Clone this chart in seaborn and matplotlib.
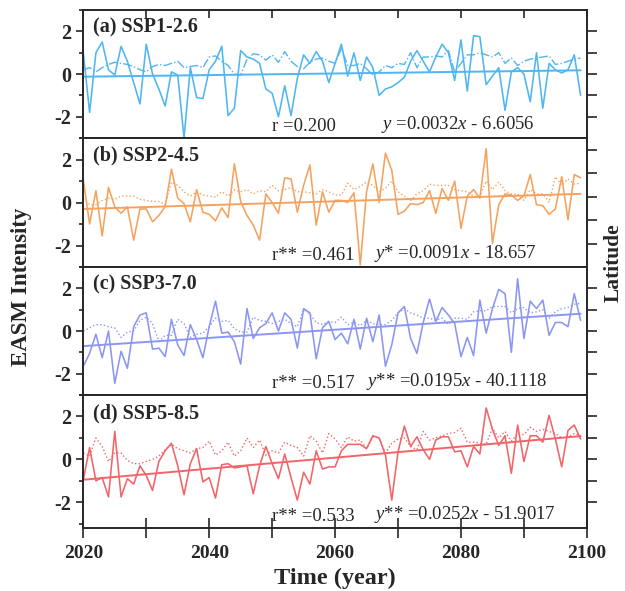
import numpy as np
import matplotlib.pyplot as plt
import seaborn as sns

years = np.arange(2020, 2100)

ssp126_annual = [1.0, -1.8, 1.0, 1.5, 0.2, -0.05, 1.3, 0.6, -0.4, -1.4,
                 1.4, 0.0, -0.7, -1.5, 0.1, -0.05, -3.0, 0.3, -1.1, -1.15,
                 0.2, 0.6, 1.3, -1.95, -1.6, 1.1, 0.8, 0.7, 0.5, -0.7,
                 -0.9, -2.0, -0.55, -1.95, -0.2, 0.9, 0.5, 1.05, 0.6, -0.4,
                 0.5, 1.4, -0.1, 1.0, -0.3, 0.8, 0.3, -1.0, -0.7, -0.6,
                 -0.4, -0.15, 0.6, 1.1, 0.6, 0.1, 0.8, 1.4, 1.0, -0.3,
                 1.6, -0.8, 1.8, 1.75, -0.5, -0.1, 0.3, -1.7, 0.1, 0.3,
                 0.0, -1.3, 1.0, -1.6, 0.5, 0.2, 0.05, 0.2, 0.9, -1.0]
ssp126_other = [0.2, 0.3, 0.1, 0.3, 0.45, 0.55, 0.5, 0.45, 0.35, 0.2,
                0.1, 0.35, 0.45, 0.4, 0.5, 0.6, 0.3, 0.35, 0.4, 0.3,
                0.8, 0.85, 0.6, 0.4, 0.0, -0.05, 0.7, 0.95, 0.9, 0.65,
                0.9, 0.55, 1.05, 0.6, 0.35, 0.25, 0.55, 0.7, 0.75, 0.6,
                0.5, 1.2, 0.4, 0.4, 0.5, 0.25, -0.05, 0.1, 0.4, 0.3,
                0.5, 0.45, 1.0, 0.3, 0.8, 0.8, 0.85, 0.8, 1.1, 0.1,
                0.5, 0.9, 0.9, 1.0, 0.9, 0.8, 1.0, 0.5, 0.75, 0.4,
                0.6, 0.7, 0.75, 0.8, 0.85, 0.45, 0.5, 0.6, 0.7, 0.75]

ssp245_annual = [1.05, -1.0, 0.55, -1.55, 0.7, -0.2, -0.5, -0.2, -1.75, -0.3,
                 -0.3, -0.9, -0.6, -0.2, 1.55, 0.2, -0.05, -0.9, 0.6, -0.45,
                 -0.55, -0.85, -0.25, -0.7, 1.8, 0.05, -0.6, -1.05, -1.75, 0.4,
                 0.0, -0.5, 1.15, 1.1, -0.45, 0.8, 1.75, -1.05, 0.5, -0.45,
                 0.1, 0.1, 0.0, 0.45, -2.9, 0.5, 1.8, 0.0, 2.3, 1.5,
                 -0.55, -0.4, -0.05, -0.1, 0.0, 0.55, -0.5, 0.65, 0.1, 1.0,
                 -1.2, 0.3, 0.6, 0.2, 2.5, -1.9, -0.1, 0.4, 0.35, 0.1,
                 0.3, 1.3, -0.1, -0.15, -0.55, -0.3, 1.2, -0.8, 1.3, 1.15]
ssp245_other = [0.2, -0.1, -0.1, 0.1, 0.2, 0.15, 0.3, 0.3, 0.3, 0.15,
                0.1, 0.05, 0.05, -0.1, 0.95, 0.8, 0.5, 0.3, 0.5, 0.35,
                0.3, 0.25, 0.5, 0.3, 0.6, 0.5, 0.6, 0.4, 0.55, 0.5,
                0.8, 0.55, 0.6, 0.7, 0.5, 0.5, 0.45, 0.4, 0.6, 0.5,
                0.35, 0.35, 0.9, 0.6, 0.75, 0.95, 0.8, 0.5, 0.65, 1.0,
                0.5, 0.3, 0.1, 0.4, 0.55, 0.85, 0.8, 0.8, 0.8, 0.6,
                0.55, 0.5, 0.3, 0.3, 1.0, 0.6, 0.95, 0.55, 0.4, 0.4,
                0.1, 0.6, 0.4, 0.4, 0.0, 1.2, 0.8, 1.1, 0.85, 0.9]

ssp370_annual = [-1.65, -1.05, -0.15, -1.25, 0.0, -2.45, -0.95, -1.75, 0.2, 0.75,
                 0.85, -0.85, -0.8, -1.2, 0.55, -0.65, -1.15, 0.3, -0.4, -1.25,
                 0.2, 1.4, -0.1, -0.05, -0.5, -1.55, 1.05, -0.35, 0.15, 0.35,
                 0.85, 0.0, 0.85, 0.55, -0.8, 1.05, 0.85, -1.3, 0.15, 0.45,
                 -0.4, -0.1, -0.6, 0.55, -0.85, 0.6, -0.5, 0.75, -1.65, -0.65,
                 0.85, 1.15, -0.35, -1.05, 0.4, 1.5, 0.45, 1.1, 0.75, 0.35,
                 -1.2, -0.3, -1.15, 1.45, -0.1, 1.05, 1.95, 1.75, -1.0, 2.45,
                 -0.35, 1.4, 1.05, 1.45, -0.2, 0.4, 0.4, 0.2, 1.75, 0.5]
ssp370_other = [0.0, 0.15, 0.3, 0.3, 0.2, 0.15, -0.3, -0.05, 0.0, 0.5,
                0.65, 0.35, -0.5, -0.2, -0.2, 0.55, 0.35, -0.3, -0.15, -0.1,
                0.2, 0.6, 0.45, 0.5, 0.1, -0.05, -0.05, 0.65, 0.5, 0.45,
                0.35, 0.45, 0.55, 0.35, 0.2, 1.0, 0.8, 0.4, 0.3, 0.45,
                0.4, 0.65, 0.3, 0.4, 0.25, 0.5, 0.35, 0.3, 0.3, 0.5,
                0.85, 1.05, 0.85, 0.75, 0.6, 0.6, 0.5, 0.6, 0.3, 0.6,
                0.6, 0.55, 0.9, 0.95, 0.95, 1.15, 1.15, 1.15, 0.85, 1.05,
                1.1, 0.85, 0.9, 1.0, 0.6, 0.9, 1.05, 1.1, 1.25, 1.3]

ssp585_annual = [-0.95, 0.55, -1.0, -0.85, -1.75, 1.3, -1.75, -0.9, -1.15, -0.3,
                 -0.75, -1.45, -0.1, 0.4, 0.75, -0.3, -1.65, -0.2, 0.5, -1.05,
                 -0.85, -1.8, -0.25, -0.2, -0.4, -0.35, -0.3, -1.6, -0.3, 0.6,
                 -0.2, -0.9, 0.25, -0.85, -1.9, -0.6, -1.15, 0.4, -0.45, -0.35,
                 -0.35, 0.4, 0.7, 0.7, 0.7, 0.5, 1.1, 1.0, 0.2, -1.9,
                 0.35, 1.55, 0.6, 1.05, 0.45, 0.0, 0.9, 1.05, 1.05, 0.35,
                 0.4, -0.35, 0.6, 0.25, 2.4, 1.4, 0.65, 1.1, -0.65, 1.6,
                 -0.1, 1.1, 1.1, 0.8, 2.05, 0.95, -0.35, 1.35, 1.6, 0.95]
ssp585_other = [0.3, 0.15, 1.0, 0.6, -0.1, 0.3, 0.3, -0.05, -0.2, -0.2,
                -0.1, 0.0, 0.15, 0.45, 0.7, 0.5, 0.4, 0.3, 0.5, 0.55,
                0.85, 0.2, 0.4, 0.8, 0.15, 0.4, 1.0, 0.55, 0.9, 0.2,
                0.4, 0.3, 0.8, 0.65, 0.55, 0.15, 1.1, 0.85, 0.3, 1.2,
                0.95, 0.55, 1.05, 0.85, 0.9, 0.5, 1.05, 1.0, 0.3, 0.75,
                0.95, 1.0, 0.6, 0.45, 1.3, 0.9, 1.0, 1.1, 1.2, 1.25,
                1.45, 0.8, 0.8, 0.75, 0.7, 1.45, 1.0, 1.3, 0.85, 1.2,
                1.15, 1.5, 1.3, 1.4, 1.3, 1.2, 1.0, 1.05, 1.2, 1.1]

panel_titles = ['(a) SSP1-2.6', '(b) SSP2-4.5', '(c) SSP3-7.0', '(d) SSP5-8.5']
r_labels = ['r =0.200', 'r** =0.461', 'r** =0.517', 'r** =0.533']
fit_labels = [r'$y$ =0.0032$x$ - 6.6056', r'$y$* =0.0091$x$ - 18.657',
              r'$y$** =0.0195$x$ - 40.1118', r'$y$** =0.0252$x$ - 51.9017']

annual = [ssp126_annual, ssp245_annual, ssp370_annual, ssp585_annual]
other = [ssp126_other, ssp245_other, ssp370_other, ssp585_other]
colors = ['#4fb6f2', '#f5a25e', '#8b96f2', '#f36468']
other_styles = ['-.', ':', ':', ':']
ylims = [(-3, 3), (-3, 2.5), (-3, 3), (-3.2, 3)]
fit_x = [0.592, 0.578, 0.562, 0.578]

sns.set_style('ticks')
plt.rcParams['font.family'] = ['Liberation Serif', 'DejaVu Serif']
plt.rcParams['mathtext.fontset'] = 'custom'
plt.rcParams['mathtext.rm'] = 'Liberation Serif'
plt.rcParams['mathtext.it'] = 'Liberation Serif:italic'
plt.rcParams['axes.linewidth'] = 1.2
plt.rcParams['axes.unicode_minus'] = False

fig = plt.figure(figsize=(6.25, 5.91), dpi=100)
gs = fig.add_gridspec(4, 1, height_ratios=[128, 129, 128, 133], hspace=0,
                      left=0.1333, right=0.939, top=0.983, bottom=0.1066)

for i in range(4):
    ax = fig.add_subplot(gs[i])
    sns.lineplot(x=years, y=other[i], ax=ax, color=colors[i], lw=1.0,
                 linestyle=other_styles[i])
    sns.lineplot(x=years, y=annual[i], ax=ax, color=colors[i], lw=1.15)
    sns.regplot(x=years, y=np.array(annual[i]), ax=ax, scatter=False, ci=None,
                color=colors[i], line_kws={'lw': 1.4})

    ax.set_xlim(2020, 2100)
    ax.set_ylim(*ylims[i])
    ax.set_yticks([-2, 0, 2])
    ax.set_yticks([-3, -1, 1, 3], minor=True)
    ax.set_xticks(range(2020, 2101, 20))
    ax.set_xticks(range(2030, 2100, 20), minor=True)
    ax.set_ylabel('')
    ax.set_xlabel('')
    ax.tick_params(axis='y', which='major', direction='out', length=5, width=1.2,
                   labelsize=14.5)
    ax.tick_params(axis='y', which='minor', direction='out', length=3, width=1.2)
    for lab in ax.get_yticklabels():
        lab.set_fontweight('bold')

    if i == 0:
        ax.tick_params(axis='x', which='both', top=True, bottom=False, direction='in',
                       length=6, width=1.2, labelbottom=False)
    elif i == 3:
        ax.tick_params(axis='x', which='both', direction='inout', length=14, width=1.2,
                       labelsize=14, pad=5)
        for lab in ax.get_xticklabels():
            lab.set_fontweight('bold')
    else:
        ax.tick_params(axis='x', which='both', bottom=False, labelbottom=False)

    ax2 = ax.twinx()
    ax2.set_ylim(*ylims[i])
    ax2.set_yticks([-2, -1, 0, 1, 2])
    ax2.tick_params(axis='y', direction='out', length=7, width=1.2, labelright=False)

    ax.text(0.0185, 0.94, panel_titles[i], transform=ax.transAxes, ha='left', va='top',
            fontsize=14.5, fontweight='bold')
    ax.text(0.374, 0.025, r_labels[i], transform=ax.transAxes, ha='left', va='bottom',
            fontsize=13.5)
    ax.text(fit_x[i], 0.025, fit_labels[i], transform=ax.transAxes, ha='left',
            va='bottom', fontsize=13.5)

fig.text(0.535, 0.021, 'Time (year)', ha='center', va='center', fontsize=17.5,
         fontweight='bold')
fig.text(0.035, 0.515, 'EASM Intensity', ha='center', va='center', rotation=90,
         fontsize=16.5, fontweight='bold')
fig.text(0.982, 0.555, 'Latitude', ha='center', va='center', rotation=90,
         fontsize=15.5, fontweight='bold')

fig.savefig('out.png', dpi=100)
